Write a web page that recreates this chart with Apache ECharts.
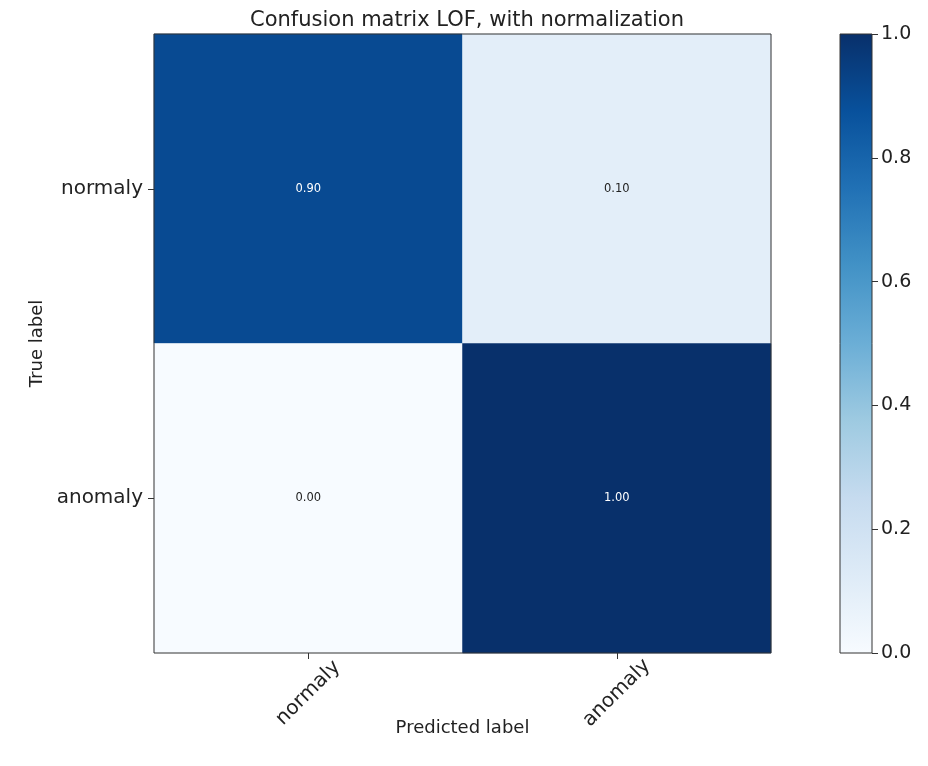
<!DOCTYPE html>
<html>
<head>
<meta charset="utf-8">
<script src="https://cdn.jsdelivr.net/npm/echarts@6/dist/echarts.min.js"></script>
<style>
  html, body { margin: 0; padding: 0; background: #fff; }
  #chart { width: 928px; height: 766px; }
</style>
</head>
<body>
<div id="chart"></div>
<script>
// Class labels (predicted on x, true on y)
const predictedLabels = ['normaly', 'anomaly'];
const trueLabels = ['normaly', 'anomaly'];
// Normalised confusion matrix rows: true label, columns: predicted label
const rowNormaly = [0.90, 0.10];
const rowAnomaly = [0.00, 1.00];
// Colour-bar ticks
const colorbarTicks = [0.0, 0.2, 0.4, 0.6, 0.8, 1.0];
// "Blues" colour ramp, low to high
const blues = ['#f7fbff', '#deebf7', '#c6dbef', '#9ecae1', '#6baed6',
               '#4292c6', '#2171b5', '#08519c', '#08306b'];

const FONT = 'DejaVu Sans';
const rows = [rowNormaly, rowAnomaly];
const cells = [];
rows.forEach((row, yi) => {
  row.forEach((v, xi) => cells.push([xi, yi, v]));
});
const threshold = 0.5;

const chart = echarts.init(document.getElementById('chart'));
chart.setOption({
  backgroundColor: '#fff',
  animation: false,
  title: {
    text: 'Confusion matrix LOF, with normalization',
    left: 462, top: 5, textAlign: 'center',
    textStyle: { fontFamily: FONT, fontSize: 21, fontWeight: 'normal', color: '#222' }
  },
  grid: [
    { left: 154, top: 34, width: 617, height: 619, show: true, z: 10,
      borderColor: '#333', borderWidth: 1, backgroundColor: 'transparent' },
    { left: 840, top: 34, width: 32, height: 619, show: true, z: 10,
      borderColor: '#333', borderWidth: 1, backgroundColor: 'transparent' }
  ],
  xAxis: [
    {
      type: 'category', gridIndex: 0, data: predictedLabels, z: 10,
      name: 'Predicted label', nameLocation: 'middle', nameGap: 66, nameMoveOverlap: false,
      nameTextStyle: { fontFamily: FONT, fontSize: 18, color: '#222' },
      axisLine: { show: false },
      axisTick: { show: true, alignWithLabel: true, length: 6, lineStyle: { color: '#333' } },
      axisLabel: {
        rotate: 45, align: 'center', verticalAlign: 'middle', margin: 40,
        fontFamily: FONT, fontSize: 20, color: '#222'
      },
      splitLine: { show: false }
    },
    { type: 'value', gridIndex: 1, min: 0, max: 1, show: false }
  ],
  yAxis: [
    {
      type: 'category', gridIndex: 0, data: trueLabels, inverse: true, z: 10,
      name: 'True label', nameLocation: 'middle', nameGap: 108, nameRotate: 90, nameMoveOverlap: false,
      nameTextStyle: { fontFamily: FONT, fontSize: 18, color: '#222' },
      axisLine: { show: false },
      axisTick: { show: true, alignWithLabel: true, length: 6, lineStyle: { color: '#333' } },
      axisLabel: { fontFamily: FONT, fontSize: 20, color: '#222', margin: 11 },
      splitLine: { show: false }
    },
    {
      type: 'value', gridIndex: 1, position: 'right', min: 0, max: 1, interval: 0.2, z: 10,
      axisLine: { show: false, onZero: false },
      axisTick: { show: true, length: 6, lineStyle: { color: '#333' } },
      axisLabel: {
        fontFamily: FONT, fontSize: 19, color: '#222', margin: 9,
        formatter: v => colorbarTicks.some(t => Math.abs(t - v) < 1e-9) ? v.toFixed(1) : ''
      },
      splitLine: { show: false }
    }
  ],
  visualMap: {
    show: false, type: 'continuous', min: 0, max: 1, seriesIndex: 0, dimension: 2,
    inRange: { color: blues }
  },
  series: [
    {
      type: 'heatmap', xAxisIndex: 0, yAxisIndex: 0,
      data: cells.map(c => ({
        value: c,
        // white text on dark cells, black on light ones
        label: { color: c[2] > threshold ? '#ffffff' : '#222222' }
      })),
      label: {
        show: true, fontFamily: FONT, fontSize: 11.5,
        formatter: p => p.value[2].toFixed(2)
      },
      emphasis: { disabled: true }
    },
    {
      // colour bar drawn as a single gradient rectangle spanning the 0..1 scale
      type: 'custom', xAxisIndex: 1, yAxisIndex: 1, silent: true,
      data: [[0, 0, 1, 1]],
      renderItem: (params, api) => {
        const p0 = api.coord([api.value(0), api.value(1)]);
        const p1 = api.coord([api.value(2), api.value(3)]);
        const stops = blues.map((c, i) => ({ offset: 1 - i / (blues.length - 1), color: c })).reverse();
        return {
          type: 'rect',
          shape: { x: p0[0], y: p1[1], width: p1[0] - p0[0], height: p0[1] - p1[1] },
          style: { fill: new echarts.graphic.LinearGradient(0, 0, 0, 1, stops) }
        };
      }
    }
  ]
});
</script>
</body>
</html>
